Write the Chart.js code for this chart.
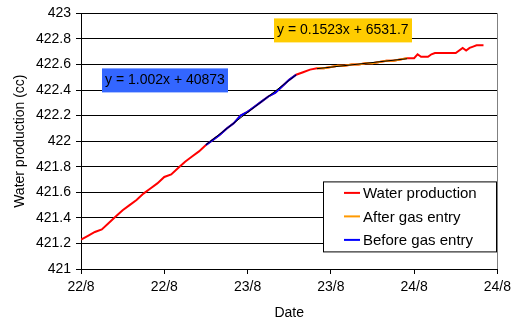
<!DOCTYPE html>
<html>
<head>
<meta charset="utf-8">
<script src="https://cdn.jsdelivr.net/npm/chart.js@4.4.1/dist/chart.umd.min.js"></script>
<style>
  html, body { margin: 0; padding: 0; background: #fff; }
  #wrap { width: 516px; height: 320px; }
</style>
</head>
<body>
<div id="wrap"><canvas id="c" width="516" height="320"></canvas></div>
<script>
// water production vs time (hours from 22/8 00:00)
const hours = [0, 1, 2, 3, 4, 5, 6, 7, 8, 9, 10, 11, 12, 13, 14, 15, 16, 17, 18, 19, 20,
  21, 22, 23, 24, 25, 26, 27, 28, 29, 30, 31, 32, 33, 34, 35, 36, 37, 38, 39, 40,
  41, 42, 43, 44, 45, 46, 47, 48, 48.5, 49, 50, 50.5, 51, 52, 53, 54, 55, 55.5, 56, 56.5, 57, 58];
const water = [421.23, 421.26, 421.29, 421.31, 421.36, 421.41, 421.46, 421.50, 421.54, 421.59, 421.63,
  421.67, 421.72, 421.74, 421.79, 421.84, 421.88, 421.92, 421.97, 422.01, 422.05,
  422.10, 422.14, 422.20, 422.23, 422.27, 422.31, 422.35, 422.38, 422.43, 422.48,
  422.52, 422.54, 422.56, 422.57, 422.57, 422.58, 422.59, 422.59, 422.60, 422.60,
  422.61, 422.61, 422.62, 422.63, 422.63, 422.64, 422.65, 422.65, 422.68, 422.66,
  422.66, 422.68, 422.69, 422.69, 422.69, 422.69, 422.73, 422.71, 422.73, 422.74, 422.75, 422.75];

// time windows of the two fitted segments (hours)
const beforeRange = [18, 31];
const afterRange = [34, 47];

const yTicks = [421, 421.2, 421.4, 421.6, 421.8, 422, 422.2, 422.4, 422.6, 422.8, 423];
const xTickHours = [0, 12, 24, 36, 48, 60];
const xTickLabels = ['22/8', '22/8', '23/8', '23/8', '24/8', '24/8'];

const eqBefore = 'y = 1.002x + 40873';
const eqAfter = 'y = 0.1523x + 6531.7';
const legendItems = [
  { text: 'Water production', color: '#FF0000' },
  { text: 'After gas entry', color: '#FF9900' },
  { text: 'Before gas entry', color: '#0000FF' }
];

const FONT = '"Liberation Sans", Arial, sans-serif';

function pts(range) {
  const out = [];
  hours.forEach((h, i) => { if (h >= range[0] && h <= range[1]) out.push({ x: h, y: water[i] }); });
  return out;
}
function fit(p) {
  const n = p.length;
  let sx = 0, sy = 0, sxx = 0, sxy = 0;
  p.forEach(q => { sx += q.x; sy += q.y; sxx += q.x * q.x; sxy += q.x * q.y; });
  const m = (n * sxy - sx * sy) / (n * sxx - sx * sx);
  const b = (sy - m * sx) / n;
  const x0 = p[0].x, x1 = p[n - 1].x;
  return [{ x: x0, y: m * x0 + b }, { x: x1, y: m * x1 + b }];
}

const beforePts = pts(beforeRange);
const afterPts = pts(afterRange);

const overlay = {
  id: 'overlay',
  afterDraw(chart) {
    const ctx = chart.ctx, a = chart.chartArea;
    ctx.save();
    // right border of plot
    ctx.strokeStyle = '#808080';
    ctx.lineWidth = 1;
    ctx.beginPath();
    ctx.moveTo(Math.round(a.right) + 0.5, a.top);
    ctx.lineTo(Math.round(a.right) + 0.5, a.bottom);
    ctx.stroke();

    // equation labels
    ctx.font = '14px ' + FONT;
    ctx.textBaseline = 'middle';
    ctx.fillStyle = '#3366FF';
    ctx.fillRect(a.left + 21, a.top + 55, 126, 24);
    ctx.fillStyle = '#000';
    ctx.fillText(eqBefore, a.left + 24, a.top + 67);
    ctx.fillStyle = '#FFCC00';
    ctx.fillRect(a.left + 193, a.top + 5, 138, 24);
    ctx.fillStyle = '#000';
    ctx.fillText(eqAfter, a.left + 196, a.top + 17);

    // legend box
    const lx = a.left + 242, ly = a.top + 168, lw = 173, lh = 70;
    ctx.fillStyle = '#fff';
    ctx.fillRect(lx, ly, lw, lh);
    ctx.strokeStyle = '#000';
    ctx.strokeRect(lx + 0.5, ly + 0.5, lw, lh);
    ctx.font = '15px ' + FONT;
    legendItems.forEach((it, i) => {
      const cy = ly + 11.5 + i * 23.5;
      ctx.strokeStyle = it.color;
      ctx.lineWidth = 2;
      ctx.beginPath();
      ctx.moveTo(lx + 21, cy);
      ctx.lineTo(lx + 37, cy);
      ctx.stroke();
      ctx.fillStyle = '#000';
      ctx.fillText(it.text, lx + 40, cy + 1);
    });
    ctx.restore();
  }
};

new Chart(document.getElementById('c'), {
  type: 'line',
  data: {
    datasets: [
      { data: fit(beforePts), borderColor: '#000', borderWidth: 1, order: 1 },
      { data: fit(afterPts), borderColor: '#000', borderWidth: 1, order: 1 },
      { data: beforePts, borderColor: '#0000FF', borderWidth: 2, order: 2 },
      { data: afterPts, borderColor: '#FF9900', borderWidth: 2, order: 2 },
      { data: hours.map((h, i) => ({ x: h, y: water[i] })), borderColor: '#FF0000', borderWidth: 2, order: 3 }
    ]
  },
  options: {
    responsive: false,
    devicePixelRatio: 1,
    animation: false,
    layout: { padding: { top: 13, right: 13, left: 0, bottom: 0 } },
    elements: { point: { radius: 0 }, line: { tension: 0 } },
    plugins: { legend: { display: false }, tooltip: { enabled: false } },
    scales: {
      x: {
        type: 'linear',
        min: 0, max: 60,
        afterBuildTicks: s => { s.ticks = xTickHours.map(v => ({ value: v })); },
        afterFit: s => { s.height = 51; },
        ticks: {
          callback: (v) => xTickLabels[xTickHours.indexOf(v)],
          font: { size: 14, family: FONT }, color: '#000', padding: 5, maxRotation: 0
        },
        grid: { drawOnChartArea: false, tickLength: 5, color: '#000' },
        border: { color: '#000' },
        title: { display: true, text: 'Date', font: { size: 14, family: FONT, lineHeight: 1 }, color: '#000', padding: { top: 0, bottom: 0 } }
      },
      y: {
        min: 421, max: 423,
        afterBuildTicks: s => { s.ticks = yTicks.map(v => ({ value: v })); },
        afterFit: s => { s.width = 81; },
        ticks: {
          callback: v => String(+v.toFixed(1)),
          font: { size: 14, family: FONT }, color: '#000', padding: 5
        },
        grid: { color: '#000', tickLength: 5 },
        border: { color: '#000' },
        title: { display: true, text: 'Water production (cc)', font: { size: 14, family: FONT }, color: '#000', padding: { top: 12, bottom: 0 } }
      }
    }
  },
  plugins: [overlay]
});
</script>
</body>
</html>
